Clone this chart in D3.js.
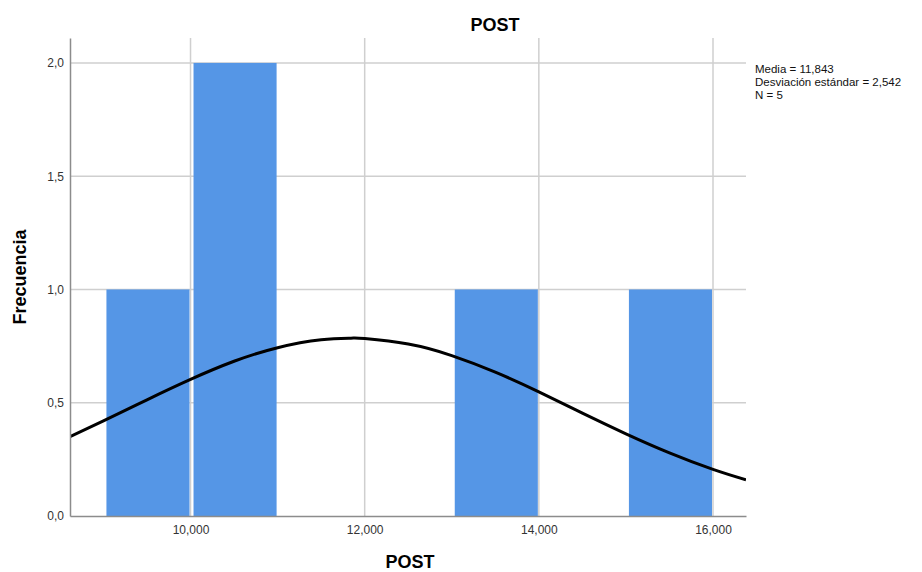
<!DOCTYPE html>
<meta charset="utf-8">
<head>
<script src="https://cdnjs.cloudflare.com/ajax/libs/d3/7.8.5/d3.min.js"></script>
<style>
	body { margin: 0; background: #fff; }
	text { font-family: "Liberation Sans", Arial, sans-serif; }
</style>
</head>
<body>
<div id="chart"></div>
<script>

// histogram bins (lower edge, upper edge) and counts
const binStarts = [9000, 10000, 13000, 15000]
const binEnds = [10000, 11000, 14000, 16000]
const counts = [1, 2, 1, 1]

// normal curve: x value, frequency
const curveX = [8616, 9000, 9500, 10000, 10500, 11000, 11500, 11843, 12000, 12500, 13000, 13500, 14000, 14500, 15000, 15500, 16000, 16379]
const curveY = [0.350, 0.420, 0.513, 0.603, 0.683, 0.743, 0.778, 0.785, 0.783, 0.759, 0.708, 0.635, 0.548, 0.454, 0.363, 0.279, 0.206, 0.160]

const xTicks = [10000, 12000, 14000, 16000]
const yTicks = [0, 0.5, 1, 1.5, 2]
const statsLines = ['Media = 11,843', 'Desviación estándar = 2,542', 'N = 5']

const W = 922, H = 572
const plot = {left: 70, right: 746, top: 38, bottom: 516}

const svg = d3.select('#chart').append('svg')
	.attr('width', W)
	.attr('height', H)

const x = d3.scaleLinear()
	.domain([8616, 16379])
	.range([plot.left, plot.right])

const y = d3.scaleLinear()
	.domain([0, 2.11])
	.range([plot.bottom, plot.top])

////////////////////////////////////
// GRID
////////////////////////////////////

svg.append('g')
	.selectAll('line')
	.data(yTicks.filter(d => d > 0))
	.join('line')
	.attr('x1', plot.left).attr('x2', plot.right)
	.attr('y1', d => y(d)).attr('y2', d => y(d))
	.attr('stroke', '#cfcfcf')
	.attr('stroke-width', 1.5)

svg.append('g')
	.selectAll('line')
	.data(xTicks)
	.join('line')
	.attr('x1', d => x(d)).attr('x2', d => x(d))
	.attr('y1', plot.top).attr('y2', plot.bottom)
	.attr('stroke', '#cfcfcf')
	.attr('stroke-width', 1.5)

////////////////////////////////////
// BARS
////////////////////////////////////

svg.append('g')
	.selectAll('rect')
	.data(counts)
	.join('rect')
	.attr('x', (d, i) => x(binStarts[i]) + 3)
	.attr('width', (d, i) => x(binEnds[i]) - x(binStarts[i]) - 4)
	.attr('y', d => y(d))
	.attr('height', d => y(0) - y(d))
	.attr('fill', '#5596e6')

////////////////////////////////////
// CURVE
////////////////////////////////////

svg.append('clipPath').attr('id', 'clip')
	.append('rect')
	.attr('x', plot.left).attr('y', plot.top)
	.attr('width', plot.right - plot.left).attr('height', plot.bottom - plot.top)

const line = d3.line()
	.x(d => x(d[0]))
	.y(d => y(d[1]))
	.curve(d3.curveNatural)

svg.append('path')
	.datum(curveX.map((v, i) => [v, curveY[i]]))
	.attr('clip-path', 'url(#clip)')
	.attr('d', line)
	.attr('fill', 'none')
	.attr('stroke', '#000')
	.attr('stroke-width', 3)

////////////////////////////////////
// AXES
////////////////////////////////////

const xAxis = svg.append('g')
	.attr('transform', `translate(0,${plot.bottom})`)
	.call(d3.axisBottom(x).tickValues(xTicks).tickSize(0).tickPadding(9)
		.tickFormat(d => d3.format(',')(d / 1000) + ',000'))
xAxis.select('.domain').attr('stroke', '#8c8c8c').attr('stroke-width', 1.5)
xAxis.selectAll('text').attr('font-size', 12).attr('fill', '#333')
	.attr('font-family', '"Liberation Sans", Arial, sans-serif')

const yAxis = svg.append('g')
	.attr('transform', `translate(${plot.left},0)`)
	.call(d3.axisLeft(y).tickValues(yTicks).tickSize(0).tickPadding(6)
		.tickFormat(d => d3.format('.1f')(d).replace('.', ',')))
yAxis.select('.domain').attr('stroke', '#8c8c8c').attr('stroke-width', 1.5)
yAxis.selectAll('text').attr('font-size', 12).attr('fill', '#333')
	.attr('font-family', '"Liberation Sans", Arial, sans-serif')

////////////////////////////////////
// TITLES + STATS
////////////////////////////////////

svg.append('text')
	.attr('x', 495).attr('y', 31)
	.attr('text-anchor', 'middle')
	.attr('font-size', 18).attr('font-weight', 'bold')
	.text('POST')

svg.append('text')
	.attr('x', 410).attr('y', 568)
	.attr('text-anchor', 'middle')
	.attr('font-size', 18).attr('font-weight', 'bold')
	.text('POST')

svg.append('text')
	.attr('transform', 'translate(26,277) rotate(-90)')
	.attr('text-anchor', 'middle')
	.attr('font-size', 18).attr('font-weight', 'bold')
	.text('Frecuencia')

svg.append('g')
	.selectAll('text')
	.data(statsLines)
	.join('text')
	.attr('x', 755)
	.attr('y', (d, i) => 73 + i * 13)
	.attr('font-size', 11.5)
	.attr('fill', '#111')
	.text(d => d)

</script>
</body>
